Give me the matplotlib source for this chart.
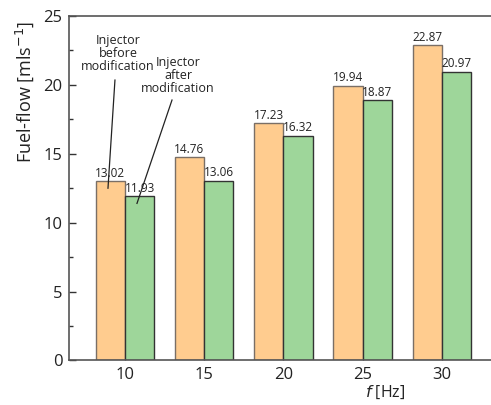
import matplotlib
matplotlib.use("Agg")
import matplotlib.pyplot as plt
import numpy as np
from matplotlib.ticker import MultipleLocator

freqs = [10, 15, 20, 25, 30]
before = [13.02, 14.76, 17.23, 19.94, 22.87]
after = [11.93, 13.06, 16.32, 18.87, 20.97]
before_label = "Injector\nbefore\nmodification"
after_label = "Injector\nafter\nmodification"

plt.rcParams['font.family'] = ['Open Sans', 'DejaVu Sans']

fig = plt.figure(figsize=(4.91, 4.05), dpi=100)
ax = fig.add_axes([0.1415, 0.110, 0.8585, 0.8505])

w = 1.85
x = np.array(freqs, dtype=float)
ax.bar(x - w/2, before, width=w, color='#FFCC8F', edgecolor='#7a6f66', linewidth=1.0, zorder=2)
ax.bar(x + w/2, after, width=w, color='#9ED69A', edgecolor='#333333', linewidth=1.0, zorder=2)

for xi, v in zip(x - w/2, before):
    ax.text(xi, v + 0.1, f"{v:.2f}", ha='center', va='bottom', fontsize=8.5, color='#222222', zorder=4)
for xi, v in zip(x + w/2, after):
    ax.text(xi, v + 0.1, f"{v:.2f}", ha='center', va='bottom', fontsize=8.5, color='#222222', zorder=4)

ax.set_xlim(6.5, 33.1)
ax.set_ylim(0, 25)
ax.set_xticks(freqs)
ax.yaxis.set_major_locator(MultipleLocator(5))
ax.yaxis.set_minor_locator(MultipleLocator(2.5))
ax.tick_params(axis='both', which='major', direction='in', length=5, width=1.0, labelsize=12, colors='#333333', labelcolor='#222222')
ax.tick_params(axis='y', which='minor', direction='in', length=3, width=1.0, colors='#333333')
ax.tick_params(axis='x', which='major', pad=5)
ax.tick_params(axis='y', which='major', pad=5)

for s in ['left', 'bottom', 'top']:
    ax.spines[s].set_color('#555555')
    ax.spines[s].set_linewidth(1.2)
ax.spines['right'].set_visible(False)

ax.set_ylabel("Fuel-flow [mls$^{-1}$]", fontsize=13, color='#222222')
ax.yaxis.set_label_coords(-0.08, 0.78)
ax.set_xlabel("$f$ [Hz]", fontsize=11.5, color='#222222')
ax.xaxis.set_label_coords(0.75, -0.068)

ax.text(9.56, 22.3, before_label, ha='center', va='center', fontsize=9, color='#222222', linespacing=1.0, zorder=5)
ax.plot([9.37, 8.93], [20.35, 12.5], color='#222222', linewidth=0.9, zorder=5)
ax.text(13.35, 20.7, after_label, ha='center', va='center', fontsize=9, color='#222222', linespacing=1.0, zorder=5)
ax.plot([12.97, 10.76], [18.9, 11.4], color='#222222', linewidth=0.9, zorder=5)

fig.savefig("out.png", dpi=100)
